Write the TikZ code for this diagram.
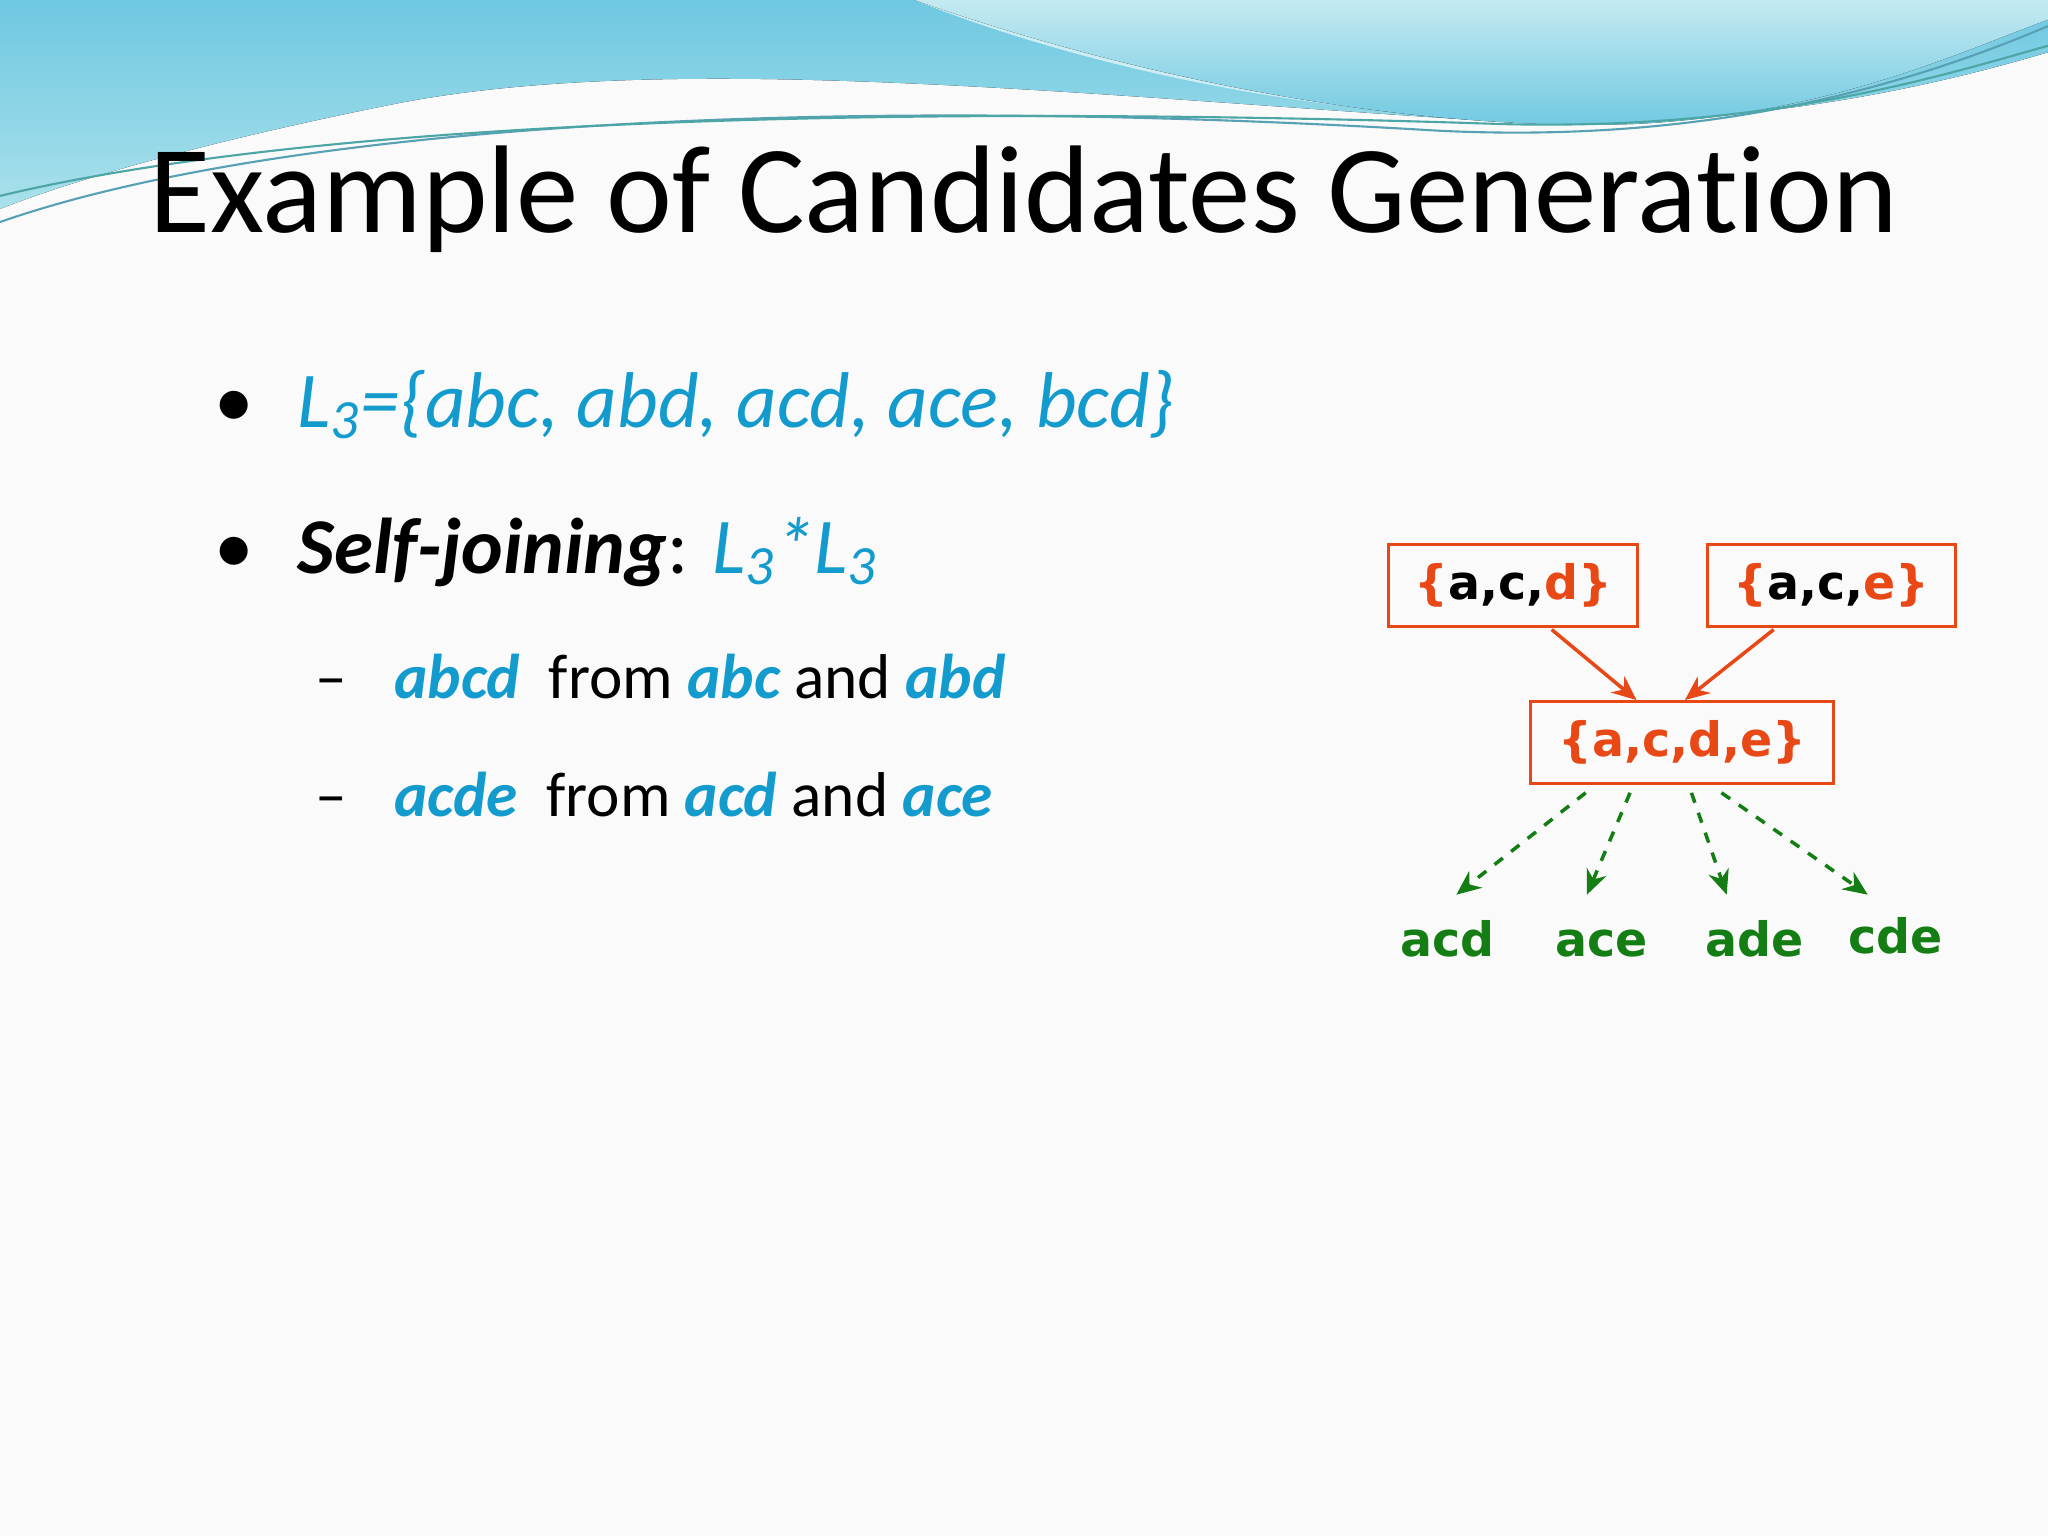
\documentclass[tikz,border=0pt]{standalone}
\usepackage{fontspec}
\setmainfont[RawFeature={-liga}]{Carlito}
\newfontfamily\vfont{DejaVu Sans}
\usetikzlibrary{arrows.meta}
\definecolor{tblue}{RGB}{20,155,205}
\definecolor{tred}{RGB}{232,72,22}
\definecolor{tgreen}{RGB}{20,125,20}
\definecolor{wave1}{RGB}{110,200,225}
\definecolor{wave2}{RGB}{170,225,235}
\tikzset{
 setbox/.style={draw=tred,line width=0.9pt,minimum width=#1,minimum height=0.82cm,font=\vfont\bfseries\fontsize{13.5}{16}\selectfont},
 setbox/.default=2.49cm,
 redarr/.style={draw=tred,line width=1pt,-{Stealth[length=7pt,width=6pt]}},
 grnarr/.style={draw=tgreen,line width=1pt,dashed,-{Stealth[length=7pt,width=6pt]}},
 leaf/.style={text=tgreen,font=\vfont\bfseries\fontsize{13.5}{16}\selectfont},
}
\begin{document}
\begin{tikzpicture}[x=0.01306cm,y=-0.01306cm]
\useasboundingbox (0,0) rectangle (1568,1176);
\fill[white!96!gray] (0,0) rectangle (1568,1176);
% waves
\fill[top color=wave1,bottom color=wave2] (0,0) -- (1568,0) -- (1568,40) .. controls (1400,90) and (1250,100) .. (1100,90) .. controls (800,70) and (500,40) .. (300,80) .. controls (150,110) and (50,140) .. (0,160) -- cycle;
\fill[wave2!60!white] (700,0) .. controls (850,60) and (1050,95) .. (1200,90) .. controls (1350,85) and (1480,40) .. (1568,0) -- cycle;
\fill[top color=wave2!70!white,bottom color=wave1] (700,0) .. controls (900,70) and (1100,100) .. (1250,95) .. controls (1400,88) and (1500,40) .. (1568,15) -- (1568,0) -- cycle;
\draw[wave1!80!black,line width=0.6pt] (0,170) .. controls (200,100) and (600,70) .. (1100,100) .. controls (1300,110) and (1450,70) .. (1568,20);
\draw[teal!70,line width=0.6pt] (0,150) .. controls (250,90) and (700,80) .. (1150,95) .. controls (1350,100) and (1480,60) .. (1568,35);
% title
\node[font=\fontsize{35.5}{42}\selectfont,anchor=base] (title) at (784,178) {Example of Candidates Generation};
% bullets
\node[font=\fontsize{22.5}{26}\selectfont,anchor=base west] (b1) at (155,327) {•\hspace{0.55em}\textcolor{tblue}{\itshape L\textsubscript{3}=\{abc, abd, acd, ace, bcd\}}};
\node[font=\fontsize{22.5}{26}\selectfont,anchor=base west] (b2) at (155,439) {•\hspace{0.55em}\textbf{\itshape Self-joining}: \textcolor{tblue}{\itshape L\textsubscript{3}*L\textsubscript{3}}};
\node[font=\fontsize{18}{22}\selectfont,anchor=base west] (s1) at (232,535) {–\hspace{0.75em}\textcolor{tblue}{\bfseries\itshape abcd}\ \ from \textcolor{tblue}{\bfseries\itshape abc} and \textcolor{tblue}{\bfseries\itshape abd}};
\node[font=\fontsize{18}{22}\selectfont,anchor=base west] (s2) at (232,625) {–\hspace{0.75em}\textcolor{tblue}{\bfseries\itshape acde}\ \ from \textcolor{tblue}{\bfseries\itshape acd} and \textcolor{tblue}{\bfseries\itshape ace}};
% diagram
\node[setbox] (acd) at (1158.5,448.5) {\textcolor{tred}{\{}a,c,\textcolor{tred}{d\}}};
\node[setbox=2.48cm] (ace) at (1402,448.5) {\textcolor{tred}{\{}a,c,\textcolor{tred}{e\}}};
\node[setbox=3.03cm,text=tred] (acde) at (1288,568.5) {\{a,c,d,e\}};
\draw[redarr] (1188,482) -- (1253,536);
\draw[redarr] (1358,482) -- (1290,536);
\node[leaf,anchor=base] (l1) at (1108,732) {acd};
\node[leaf,anchor=base] (l2) at (1226,732) {ace};
\node[leaf,anchor=base] (l3) at (1343,732) {ade};
\node[leaf,anchor=base] (l4) at (1451,730) {cde};
\draw[grnarr] (1214,607) -- (1115,685);
\draw[grnarr] (1248,607) -- (1215,685);
\draw[grnarr] (1295,607) -- (1322,685);
\draw[grnarr] (1318,607) -- (1430,685);
\end{tikzpicture}
\end{document}
